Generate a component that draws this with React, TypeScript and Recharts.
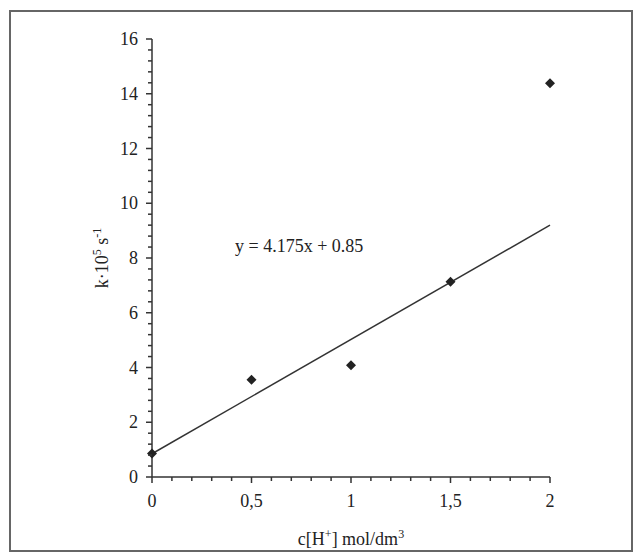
import { ComposedChart, Scatter, XAxis, YAxis, Label } from "recharts";

// measured points
const concentrations = [0, 0.5, 1, 1.5, 2];
const rateConstants = [0.86, 3.55, 4.08, 7.13, 14.38];

// trend line y = 4.175x + 0.85, read at both ends
const trendX = [0, 2];
const trendY = [0.85, 9.2];

const xTicks = [0, 0.1, 0.2, 0.3, 0.4, 0.5, 0.6, 0.7, 0.8, 0.9, 1, 1.1, 1.2, 1.3, 1.4, 1.5, 1.6, 1.7, 1.8, 1.9, 2];
const yTicks = Array.from({ length: 41 }, (_, i) => Math.round(i * 4) / 10);

const points = concentrations.map((x, i) => ({ x, y: rateConstants[i] }));
const trend = trendX.map((x, i) => ({ x, y: trendY[i] }));

const FONT = "'Liberation Serif', 'Times New Roman', serif";
const INK = "#333";

const isMajorX = (v: number) => Math.abs(v * 2 - Math.round(v * 2)) < 1e-6;
const isMajorY = (v: number) => Math.abs(v / 2 - Math.round(v / 2)) < 1e-6;

const XTick = (props: any) => {
  const { x, y, payload } = props;
  const v = payload.value;
  const major = isMajorX(v);
  return (
    <g>
      <line x1={x} x2={x} y1={y} y2={y + (major ? 6 : 4)} stroke={INK} strokeWidth={1.5} />
      {major && (
        <text x={x} y={y + 30} textAnchor="middle" fontFamily={FONT} fontSize={18} fill="#222">
          {String(v).replace(".", ",")}
        </text>
      )}
    </g>
  );
};

const YTick = (props: any) => {
  const { x, y, payload } = props;
  const v = payload.value;
  const major = isMajorY(v);
  return (
    <g>
      <line x1={x - (major ? 6 : 4)} x2={x} y1={y} y2={y} stroke={INK} strokeWidth={1.5} />
      {major && (
        <text x={x - 14} y={y + 6} textAnchor="end" fontFamily={FONT} fontSize={18} fill="#222">
          {v}
        </text>
      )}
    </g>
  );
};

const Diamond = (props: any) => {
  const { cx, cy } = props;
  const r = 5;
  return <polygon points={`${cx},${cy - r} ${cx + r},${cy} ${cx},${cy + r} ${cx - r},${cy}`} fill="#222" />;
};

const YTitle = (props: any) => {
  const { viewBox } = props;
  const cx = 108;
  const cy = viewBox.y + viewBox.height / 2;
  return (
    <text x={cx} y={cy} transform={`rotate(-90 ${cx} ${cy})`} textAnchor="middle" fontFamily={FONT} fontSize={18} fill="#222">
      k·10<tspan fontSize={12} dy={-7}>5</tspan>
      <tspan dy={7}> s</tspan>
      <tspan fontSize={12} dy={-7}>-1</tspan>
    </text>
  );
};

const XTitle = (props: any) => {
  const { viewBox } = props;
  const cx = viewBox.x + viewBox.width / 2;
  return (
    <text x={cx} y={545} textAnchor="middle" fontFamily={FONT} fontSize={18} fill="#222">
      c[H<tspan fontSize={12} dy={-7}>+</tspan>
      <tspan dy={7}>] mol/dm</tspan>
      <tspan fontSize={12} dy={-7}>3</tspan>
    </text>
  );
};

export default function App() {
  return (
    <div style={{ position: "absolute", left: 0, top: 0, width: 639, height: 558, background: "#fff" }}>
      <div
        style={{
          position: "absolute",
          left: 9,
          top: 10,
          width: 620,
          height: 538,
          border: "2px solid #666",
        }}
      />
      <ComposedChart width={639} height={558} margin={{ top: 39, right: 89, bottom: 21, left: 92 }}>
        <XAxis
          type="number"
          dataKey="x"
          domain={[0, 2]}
          ticks={xTicks}
          interval={0}
          tickSize={0}
          tickMargin={0}
          tick={<XTick />}
          height={60}
          axisLine={{ stroke: INK, strokeWidth: 1.5 }}
        >
          <Label content={<XTitle />} />
        </XAxis>
        <YAxis
          type="number"
          dataKey="y"
          domain={[0, 16]}
          ticks={yTicks}
          interval={0}
          tickSize={0}
          tickMargin={0}
          tick={<YTick />}
          width={60}
          axisLine={{ stroke: INK, strokeWidth: 1.5 }}
        >
          <Label content={<YTitle />} />
        </YAxis>
        <Scatter
          data={trend}
          line={{ stroke: INK, strokeWidth: 1.5 }}
          shape={() => <g />}
          isAnimationActive={false}
        />
        <Scatter data={points} shape={<Diamond />} isAnimationActive={false} />
      </ComposedChart>
      <div
        style={{
          position: "absolute",
          left: 235,
          top: 236,
          fontFamily: FONT,
          fontSize: 18,
          color: "#222",
          whiteSpace: "nowrap",
        }}
      >
        y = 4.175x + 0.85
      </div>
    </div>
  );
}
